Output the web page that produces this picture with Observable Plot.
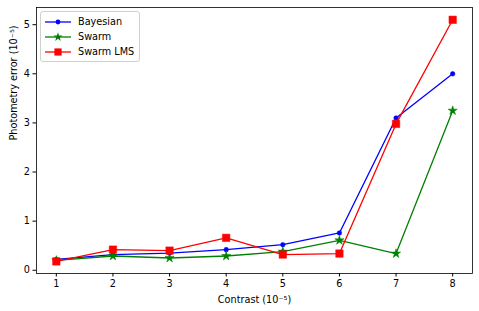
<!DOCTYPE html>
<html><head><meta charset="utf-8">
<script src="https://cdn.jsdelivr.net/npm/d3@7"></script>
<script src="https://cdn.jsdelivr.net/npm/@observablehq/plot@0.6"></script>
<style>
body{margin:0;background:#fff;font-family:"DejaVu Sans",sans-serif;}
#wrap{position:relative;width:479px;height:311px;}
#legend{position:absolute;left:40px;top:11px;border:1px solid #d0d0d0;border-radius:3px;background:rgba(255,255,255,0.85);padding:2px 5px 2px 3px;font-size:9.7px;line-height:15px;}
#legend div{display:flex;align-items:center;}
#legend svg{margin-right:6px;}
</style></head><body>
<div id="wrap"><div id="legend"></div></div>
<script>
const contrast = [1,2,3,4,5,6,7,8];
const bayesian = [0.22,0.32,0.35,0.42,0.52,0.76,3.10,4.00];
const swarm    = [0.20,0.29,0.25,0.29,0.38,0.61,0.34,3.25];
const swarmLMS = [0.18,0.42,0.40,0.66,0.32,0.34,2.98,5.10];
const seriesNames = ["Bayesian","Swarm","Swarm LMS"];
const colors = ["#0000ff","#008000","#ff0000"];
const symbols = ["circle","star","square"];
const radii = [2.3,2.9,4.2];
const xTicks = [1,2,3,4,5,6,7,8];
const yTicks = [0,1,2,3,4,5];

const values = [bayesian, swarm, swarmLMS];
const rows = [];
values.forEach((vals,si)=>vals.forEach((v,i)=>rows.push({series:seriesNames[si],x:contrast[i],y:v})));

const marks = [];
seriesNames.forEach((s,si)=>{
  const d = rows.filter(r=>r.series===s);
  marks.push(Plot.line(d,{x:"x",y:"y",stroke:colors[si],strokeWidth:1.3}));
  marks.push(Plot.dot(d,{x:"x",y:"y",fill:colors[si],stroke:colors[si],strokeWidth:0.5,symbol:symbols[si],r:radii[si]}));
});

const chart = Plot.plot({
  width:479,height:311,
  marginLeft:36,marginRight:7,marginTop:7,marginBottom:38,
  style:{fontFamily:"DejaVu Sans",fontSize:"9.7px",color:"#000",background:"#fff"},
  x:{domain:[0.65,8.35]},
  y:{domain:[-0.066,5.35]},
  marks:[
    Plot.axisX(xTicks,{tickSize:3.5,tickPadding:3,label:null,fontSize:9.7}),
    Plot.axisY(yTicks,{tickSize:3.5,tickPadding:3,label:null,fontSize:9.7}),
    ...marks,
    Plot.frame({stroke:"#000",strokeWidth:0.8}),
    Plot.text(["Contrast (10⁻⁵)"],{frameAnchor:"bottom",dy:29,fontSize:9.7,fill:"#000"}),
    Plot.text(["Photometry error (10⁻⁵)"],{frameAnchor:"left",dx:-23,rotate:-90,fontSize:9.7,fill:"#000"})
  ]
});
document.getElementById("wrap").prepend(chart);

const leg = document.getElementById("legend");
seriesNames.forEach((s,si)=>{
  const row = document.createElement("div");
  const sym = d3.symbol(si===0?d3.symbolCircle:si===1?d3.symbolStar:d3.symbolSquare, si===0?18:si===1?26:52)();
  row.innerHTML = `<svg width="28" height="12"><line x1="1" x2="27" y1="6" y2="6" stroke="${colors[si]}" stroke-width="1.3"/><path d="${sym}" transform="translate(14,6)" fill="${colors[si]}"/></svg><span>${s}</span>`;
  leg.appendChild(row);
});
</script>
</body></html>
